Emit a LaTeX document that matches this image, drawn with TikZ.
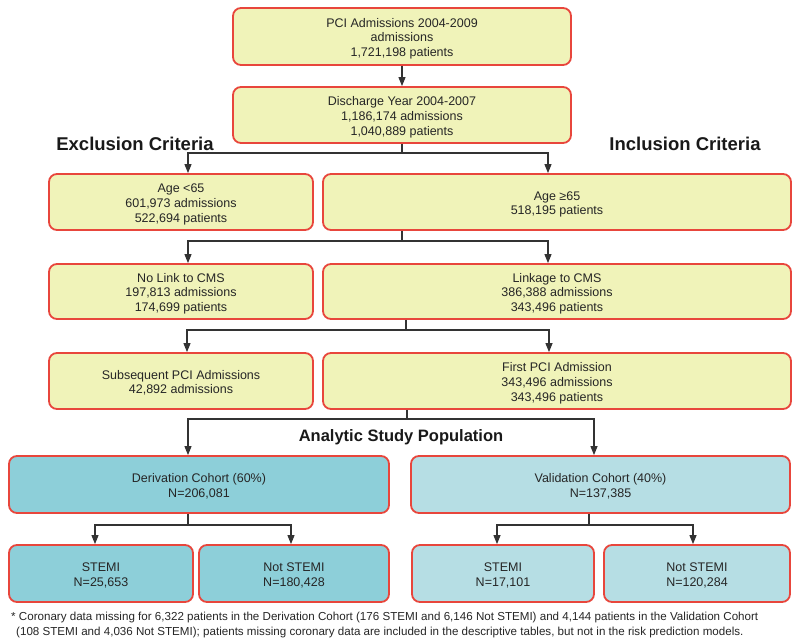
\documentclass[tikz,border=0pt]{standalone}
\usepackage{fontspec}
\setmainfont{Liberation Sans}
\usetikzlibrary{arrows.meta,calc}
\definecolor{boxyellow}{HTML}{F0F3B9}
\definecolor{boxteal}{HTML}{8DCFD9}
\definecolor{boxlteal}{HTML}{B6DEE4}
\definecolor{boxred}{HTML}{E8463C}
\definecolor{lineg}{HTML}{333333}
\newcommand\bxt[1]{\raisebox{-2.5pt}[\height][\depth]{\begin{tabular}{@{}c@{}}#1\end{tabular}}}
\tikzset{
  basebox/.style={draw=boxred, line width=1.8pt, rounded corners=8pt,
    inner sep=0pt, font=\fontsize{12.5}{14.7}\selectfont, text=black!85},
  ybox/.style={basebox, fill=boxyellow},
  tbox/.style={basebox, fill=boxteal},
  lbox/.style={basebox, fill=boxlteal},
  conn/.style={draw=lineg, line width=1.1pt, -{Triangle[length=9pt,width=7pt]}},
  plain/.style={draw=lineg, line width=1.1pt},
  header/.style={font=\fontsize{18.5}{20}\selectfont\bfseries, text=black!90},
}
\begin{document}
\begin{tikzpicture}[x=1pt,y=-1pt]
\useasboundingbox[fill=white] (0,0) rectangle (800,644);
% row 1-2
\node[ybox, minimum width=338pt, minimum height=57pt] (b1) at (402,36.5) {\bxt{PCI Admissions 2004-2009\\admissions\\1,721,198 patients}};
\node[ybox, minimum width=338pt, minimum height=56pt] (b2) at (402,115) {\bxt{Discharge Year 2004-2007\\1,186,174 admissions\\1,040,889 patients}};
% headers
\node[header] (exc) at (135,144) {Exclusion Criteria};
\node[header] (inc) at (685,144) {Inclusion Criteria};
% row 3
\node[ybox, minimum width=264pt, minimum height=56pt] (b3L) at (181,202) {\bxt{Age <65\\601,973 admissions\\522,694 patients}};
\node[ybox, minimum width=468pt, minimum height=56pt] (b3R) at (557,202) {\bxt{Age ≥65\\518,195 patients}};
% row 4
\node[ybox, minimum width=264pt, minimum height=55pt] (b4L) at (181,291.5) {\bxt{No Link to CMS\\197,813 admissions\\174,699 patients}};
\node[ybox, minimum width=468pt, minimum height=55pt] (b4R) at (557,291.5) {\bxt{Linkage to CMS\\386,388 admissions\\343,496 patients}};
% row 5
\node[ybox, minimum width=264pt, minimum height=56pt] (b5L) at (181,381) {\bxt{Subsequent PCI Admissions\\42,892 admissions}};
\node[ybox, minimum width=468pt, minimum height=56pt] (b5R) at (557,381) {\bxt{First PCI Admission\\343,496 admissions\\343,496 patients}};
\node[font=\fontsize{16.5}{18}\selectfont\bfseries, text=black!90] (asp) at (401,437) {Analytic Study Population};
% row 6
\node[tbox, minimum width=380pt, minimum height=57pt] (b6L) at (199,484.5) {\bxt{Derivation Cohort (60\%)\\N=206,081}};
\node[lbox, minimum width=379pt, minimum height=57pt] (b6R) at (600.5,484.5) {\bxt{Validation Cohort (40\%)\\N=137,385}};
% row 7
\node[tbox, minimum width=184pt, minimum height=57pt] (b7a) at (101,573.5) {\bxt{STEMI\\N=25,653}};
\node[tbox, minimum width=190pt, minimum height=57pt] (b7b) at (294,573.5) {\bxt{Not STEMI\\N=180,428}};
\node[lbox, minimum width=182pt, minimum height=57pt] (b7c) at (503,573.5) {\bxt{STEMI\\N=17,101}};
\node[lbox, minimum width=186pt, minimum height=57pt] (b7d) at (697,573.5) {\bxt{Not STEMI\\N=120,284}};
% footnote
\node[anchor=north west, align=left, inner sep=0pt, font=\fontsize{11.6}{15}\selectfont, text=black!85] (fn) at (11,612)
 {* Coronary data missing for 6,322 patients in the Derivation Cohort (176 STEMI and 6,146 Not STEMI) and 4,144 patients in the Validation Cohort\\
 \hspace*{5pt}(108 STEMI and 4,036 Not STEMI); patients missing coronary data are included in the descriptive tables, but not in the risk prediction models.};
% connectors
\draw[conn] (b1) -- (b2);
\coordinate (j1) at (b2.south |- 0,153);
\draw[plain] (b2.south) -- (j1);
\draw[conn] (j1) -| ([xshift=7pt]b3L.north);
\draw[conn] (j1) -| ([xshift=-9pt]b3R.north);
\coordinate (s2) at (b3R.south -| b1.south);
\coordinate (j2) at (s2 |- 0,241);
\draw[plain] (s2) -- (j2);
\draw[conn] (j2) -| ([xshift=7pt]b4L.north);
\draw[conn] (j2) -| ([xshift=-9pt]b4R.north);
\coordinate (s3) at ([xshift=4pt]b4R.south -| b1.south);
\coordinate (j3) at (s3 |- 0,330);
\draw[plain] (s3) -- (j3);
\draw[conn] (j3) -| ([xshift=6pt]b5L.north);
\draw[conn] (j3) -| ([xshift=-8pt]b5R.north);
\coordinate (s4) at ([xshift=5pt]b5R.south -| b1.south);
\coordinate (j4) at (s4 |- 0,419);
\draw[plain] (s4) -- (j4);
\draw[conn] (j4) -| ([xshift=-11pt]b6L.north);
\draw[conn] (j4) -| ([xshift=-6.5pt]b6R.north);
\coordinate (s5) at ([xshift=-11pt]b6L.south);
\coordinate (j5) at (s5 |- 0,525);
\draw[plain] (s5) -- (j5);
\draw[conn] (j5) -| ([xshift=-6pt]b7a.north);
\draw[conn] (j5) -| ([xshift=-3pt]b7b.north);
\coordinate (s6) at ([xshift=-11.5pt]b6R.south);
\coordinate (j6) at (s6 |- 0,525);
\draw[plain] (s6) -- (j6);
\draw[conn] (j6) -| ([xshift=-6pt]b7c.north);
\draw[conn] (j6) -| ([xshift=-4pt]b7d.north);
\end{tikzpicture}
\end{document}
